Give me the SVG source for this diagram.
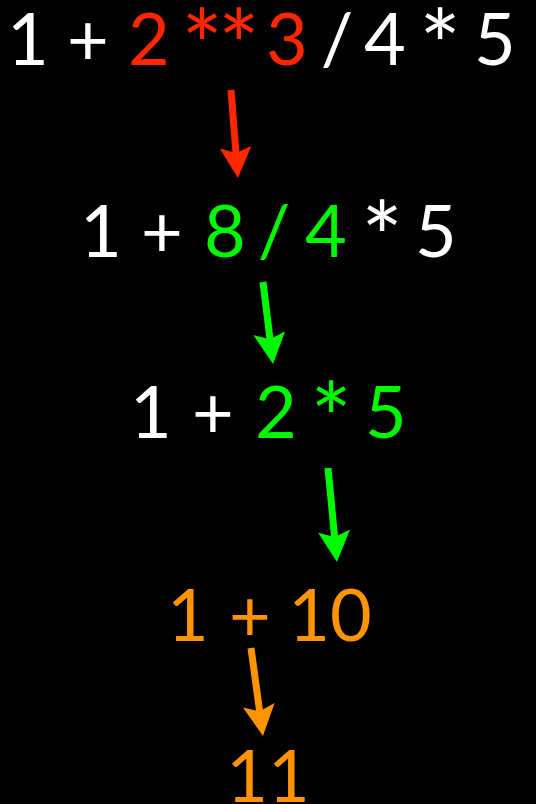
<svg xmlns="http://www.w3.org/2000/svg" width="536" height="804" viewBox="0 0 536 804">
<style>
text{font-family:Lato,"Open Sans","Liberation Sans",sans-serif;font-size:72px;text-anchor:middle}
text.ast{font-size:98px}
.w{fill:#ffffff}.r{fill:#ff2600}.g{fill:#00f900}.o{fill:#ff9300}
.shaft{fill:none;stroke-width:7}
</style>
<defs>
<marker id="hr" markerUnits="userSpaceOnUse" viewBox="0 0 31 32" markerWidth="31" markerHeight="32" refX="6" refY="16" orient="auto"><path d="M0,0 L31,16 L0,32 L6,16 z" fill="#ff2600"/></marker>
<marker id="hg" markerUnits="userSpaceOnUse" viewBox="0 0 31 32" markerWidth="31" markerHeight="32" refX="6" refY="16" orient="auto"><path d="M0,0 L31,16 L0,32 L6,16 z" fill="#00f900"/></marker>
<marker id="ho" markerUnits="userSpaceOnUse" viewBox="0 0 31 32" markerWidth="31" markerHeight="32" refX="6" refY="16" orient="auto"><path d="M0,0 L31,16 L0,32 L6,16 z" fill="#ff9300"/></marker>
</defs>
<rect width="536" height="804" fill="#000"/>
<g id="step1">
<text class="w" x="28" y="65">1</text>
<text class="w" x="88" y="65">+</text>
<text class="r" x="149" y="65">2</text>
<text class="r ast" x="218" y="82" letter-spacing="-5">**</text>
<text class="r" x="287" y="65">3</text>
<text class="w" x="337" y="65">/</text>
<text class="w" x="385" y="65">4</text>
<text class="w ast" x="440" y="82">*</text>
<text class="w" x="495" y="65">5</text>
</g>
<g id="step2">
<text class="w" x="101" y="257">1</text>
<text class="w" x="162" y="257">+</text>
<text class="g" x="225" y="257">8</text>
<text class="g" x="274" y="257">/</text>
<text class="g" x="326" y="257">4</text>
<text class="w ast" x="382" y="274">*</text>
<text class="w" x="436" y="257">5</text>
</g>
<g id="step3">
<text class="w" x="151" y="438">1</text>
<text class="w" x="213" y="438">+</text>
<text class="g" x="276" y="438">2</text>
<text class="g ast" x="331" y="455">*</text>
<text class="g" x="386" y="438">5</text>
</g>
<g id="step4">
<text class="o" x="188" y="641">1</text>
<text class="o" x="250" y="641">+</text>
<text class="o" x="330" y="641">10</text>
</g>
<g id="step5">
<text class="o" x="268" y="802">11</text>
</g>
<g id="connectors">
<path class="shaft" stroke="#ff2600" d="M231,90 L236,153.1" marker-end="url(#hr)"/>
<path class="shaft" stroke="#00f900" d="M263,282 L270,339.2" marker-end="url(#hg)"/>
<path class="shaft" stroke="#00f900" d="M328,468 L334.6,537.1" marker-end="url(#hg)"/>
<path class="shaft" stroke="#ff9300" d="M251,648 L259.6,711.2" marker-end="url(#ho)"/>
</g>
</svg>
